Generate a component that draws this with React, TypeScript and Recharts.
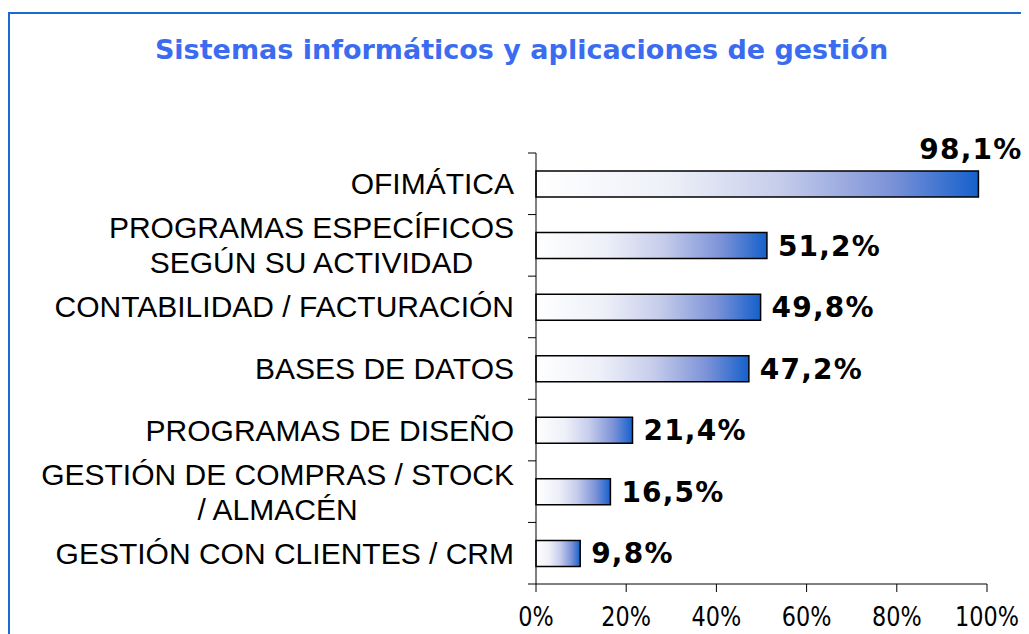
import { BarChart, Bar, XAxis, YAxis, LabelList } from 'recharts'

const categories = [
  'OFIMÁTICA',
  'PROGRAMAS ESPECÍFICOS\nSEGÚN SU ACTIVIDAD',
  'CONTABILIDAD / FACTURACIÓN',
  'BASES DE DATOS',
  'PROGRAMAS DE DISEÑO',
  'GESTIÓN DE COMPRAS / STOCK\n/ ALMACÉN',
  'GESTIÓN CON CLIENTES / CRM',
]
const values = [98.1, 51.2, 49.8, 47.2, 21.4, 16.5, 9.8]
const xTicks = [0, 20, 40, 60, 80, 100]

const title = 'Sistemas informáticos y aplicaciones de gestión'

const data = categories.map((name, i) => ({ name, value: values[i] }))

const CAT_FONT = "30px 'Liberation Sans'"
let ctx: CanvasRenderingContext2D | null = null
function measure(text: string) {
  if (!ctx) ctx = document.createElement('canvas').getContext('2d')
  if (!ctx) return text.length * 16
  ctx.font = CAT_FONT
  return ctx.measureText(text).width
}

const BAND = 431 / categories.length

const CategoryTick = (props: any) => {
  const { y, payload, index } = props
  const axisX = 528
  const lines: string[] = String(payload.value).split('\n')
  const maxW = Math.max(...lines.map(measure))
  const cx = axisX - 22 - maxW / 2
  const lh = 35
  const first = y - ((lines.length - 1) * lh) / 2
  return (
    <g>
      <line x1={axisX - 8} x2={axisX} y1={y - BAND / 2} y2={y - BAND / 2} stroke="#000" />
      {index === categories.length - 1 && (
        <line x1={axisX - 8} x2={axisX} y1={y + BAND / 2} y2={y + BAND / 2} stroke="#000" />
      )}
      {lines.map((l, i) => (
        <text
          key={i}
          x={cx}
          y={first + i * lh + 10.5}
          textAnchor="middle"
          fontFamily="'Liberation Sans', Arial, sans-serif"
          fontSize={30}
          fill="#000"
        >
          {l}
        </text>
      ))}
    </g>
  )
}

const PercentTick = (props: any) => {
  const { x, y, payload } = props
  return (
    <text
      transform={`translate(${x},${y + 34}) scale(0.86,1)`}
      textAnchor="middle"
      fontFamily="'DejaVu Sans', Verdana, sans-serif"
      fontSize={26}
      fill="#000"
    >
      {payload.value}%
    </text>
  )
}

const ValueLabel = (props: any) => {
  const { x, y, width, height, value } = props
  const txt = value.toFixed(1).replace('.', ',') + '%'
  const common = {
    fontFamily: "'DejaVu Sans', Verdana, sans-serif",
    fontSize: 28,
    fontWeight: 'bold' as const,
    letterSpacing: 1.2,
    fill: '#000',
  }
  if (value > 90) {
    return (
      <text x={x + width + 44} y={y - 12} textAnchor="end" {...common}>
        {txt}
      </text>
    )
  }
  return (
    <text x={x + width + 11} y={y + height / 2 + 10} textAnchor="start" {...common}>
      {txt}
    </text>
  )
}

export default function App() {
  return (
    <div style={{ position: 'relative', width: 1021, height: 626, overflow: 'hidden', background: '#fff' }}>
      <div
        style={{
          position: 'absolute',
          left: 0,
          top: 4,
          width: 1100,
          height: 700,
          border: '2px solid #1b6ad4',
        }}
      />
      <div
        style={{
          position: 'absolute',
          left: 0,
          top: 0,
          width: 1027,
          textAlign: 'center',
          fontFamily: "'DejaVu Sans', Verdana, sans-serif",
          fontWeight: 'bold',
          fontSize: 27,
          color: '#3b6cf0',
          lineHeight: '32px',
          paddingTop: 26,
        }}
      >
        {title}
      </div>
      <div style={{ position: 'absolute', left: 0, top: 0 }}>
        <BarChart
          width={1021}
          height={626}
          data={data}
          layout="vertical"
          margin={{ top: 145, right: 42, bottom: 0, left: 0 }}
        >
          <defs>
            <linearGradient id="barGrad" x1="0" y1="0" x2="1" y2="0">
              <stop offset="0" stopColor="#ffffff" />
              <stop offset="0.3" stopColor="#eef0f8" />
              <stop offset="0.55" stopColor="#c6cdeb" />
              <stop offset="0.8" stopColor="#7d93d8" />
              <stop offset="1" stopColor="#1560cc" />
            </linearGradient>
          </defs>
          <XAxis
            type="number"
            domain={[0, 100]}
            ticks={xTicks}
            interval={0}
            height={50}
            tickSize={8}
            tickMargin={0}
            axisLine={{ stroke: '#000' }}
            tickLine={{ stroke: '#000' }}
            tick={<PercentTick />}
          />
          <YAxis
            type="category"
            dataKey="name"
            width={528}
            interval={0}
            tickLine={false}
            tickSize={0}
            axisLine={{ stroke: '#000' }}
            tick={<CategoryTick />}
          />
          <Bar
            dataKey="value"
            barSize={26}
            fill="url(#barGrad)"
            stroke="#000"
            strokeWidth={1.5}
            isAnimationActive={false}
          >
            <LabelList dataKey="value" content={<ValueLabel />} />
          </Bar>
        </BarChart>
      </div>
    </div>
  )
}
